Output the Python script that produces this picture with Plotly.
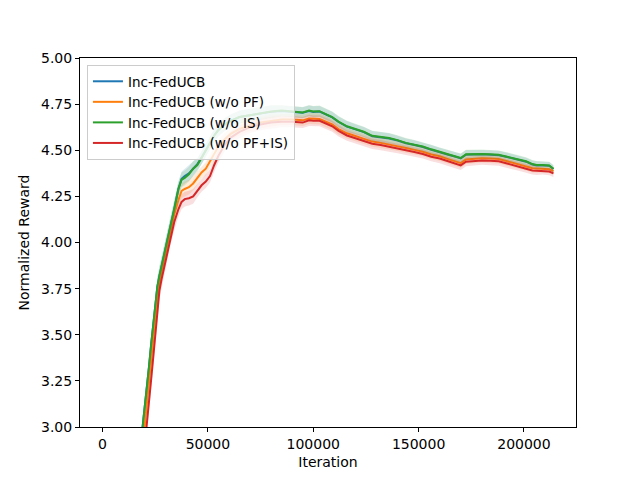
import plotly.graph_objects as go

iters = [19000, 20000, 21000, 22000, 23000, 24000, 25000, 26000, 27000, 28000,
         30000, 32000, 34000, 36000, 37500, 39000, 41000, 43000, 45000, 47000,
         49000, 51000, 53000, 55000, 58000, 61000, 65000, 70000, 75000, 80000,
         85000, 90000, 95000, 98000, 100000, 103000, 106000, 109000, 112000, 116000,
         120000, 124000, 128000, 132000, 136000, 140000, 144000, 148000, 152000, 156000,
         160000, 164000, 168000, 170000, 172500, 176000, 180000, 184000, 188000, 192000,
         195000, 198000, 201000, 204000, 206000, 209000, 212000, 214000]

inc_fed = [3.00, 3.10, 3.20, 3.32, 3.44, 3.55, 3.67, 3.76, 3.82, 3.87,
           3.97, 4.07, 4.18, 4.29, 4.345, 4.36, 4.375, 4.40, 4.425, 4.46,
           4.50, 4.54, 4.58, 4.61, 4.64, 4.66, 4.68, 4.69, 4.70, 4.708,
           4.713, 4.708, 4.703, 4.713, 4.708, 4.71, 4.693, 4.678, 4.653, 4.628,
           4.613, 4.598, 4.576, 4.57, 4.564, 4.553, 4.538, 4.528, 4.518, 4.503,
           4.488, 4.476, 4.463, 4.456, 4.476, 4.478, 4.478, 4.476, 4.473, 4.463,
           4.455, 4.448, 4.438, 4.423, 4.418, 4.418, 4.416, 4.398]

wo_pf = [2.89, 3.00, 3.11, 3.23, 3.35, 3.47, 3.59, 3.70, 3.78, 3.84,
         3.94, 4.05, 4.15, 4.23, 4.28, 4.29, 4.30, 4.32, 4.35, 4.38,
         4.40, 4.44, 4.48, 4.52, 4.56, 4.59, 4.615, 4.635, 4.65, 4.66,
         4.667, 4.667, 4.662, 4.672, 4.67, 4.67, 4.655, 4.64, 4.615, 4.592,
         4.577, 4.562, 4.547, 4.54, 4.532, 4.522, 4.512, 4.502, 4.492, 4.477,
         4.467, 4.452, 4.437, 4.43, 4.45, 4.455, 4.457, 4.455, 4.452, 4.44,
         4.432, 4.422, 4.412, 4.402, 4.40, 4.40, 4.397, 4.387]

wo_is = [3.00, 3.10, 3.20, 3.32, 3.44, 3.55, 3.67, 3.76, 3.82, 3.87,
         3.97, 4.07, 4.18, 4.29, 4.34, 4.35, 4.37, 4.40, 4.42, 4.46,
         4.50, 4.54, 4.58, 4.61, 4.64, 4.66, 4.68, 4.69, 4.70, 4.71,
         4.715, 4.71, 4.705, 4.715, 4.71, 4.712, 4.695, 4.68, 4.655, 4.63,
         4.615, 4.60, 4.578, 4.572, 4.566, 4.555, 4.54, 4.53, 4.52, 4.505,
         4.49, 4.478, 4.465, 4.458, 4.478, 4.48, 4.48, 4.478, 4.475, 4.465,
         4.457, 4.45, 4.44, 4.425, 4.42, 4.42, 4.418, 4.40]

wo_pf_is = [2.78, 2.89, 3.01, 3.13, 3.25, 3.37, 3.50, 3.63, 3.74, 3.80,
            3.91, 4.02, 4.11, 4.18, 4.22, 4.235, 4.24, 4.25, 4.28, 4.31,
            4.33, 4.36, 4.42, 4.47, 4.53, 4.57, 4.60, 4.625, 4.64, 4.65,
            4.655, 4.655, 4.65, 4.662, 4.66, 4.66, 4.645, 4.63, 4.605, 4.58,
            4.565, 4.55, 4.535, 4.528, 4.52, 4.51, 4.50, 4.49, 4.48, 4.465,
            4.455, 4.44, 4.425, 4.418, 4.438, 4.442, 4.445, 4.443, 4.44, 4.428,
            4.42, 4.41, 4.40, 4.39, 4.388, 4.388, 4.385, 4.375]

# spread of the shaded bands (std over runs)
std_is = [0.05, 0.05, 0.05, 0.05, 0.05, 0.05, 0.05, 0.05, 0.05, 0.05,
          0.045, 0.045, 0.045, 0.04, 0.04, 0.04, 0.04, 0.04, 0.035, 0.035,
          0.035, 0.035, 0.035, 0.035, 0.035, 0.035, 0.035, 0.035, 0.035, 0.035,
          0.03, 0.03, 0.03, 0.03, 0.03, 0.03, 0.03, 0.03, 0.03, 0.03,
          0.028, 0.028, 0.028, 0.028, 0.028, 0.026, 0.026, 0.026, 0.025, 0.025,
          0.025, 0.025, 0.025, 0.025, 0.025, 0.025, 0.024, 0.024, 0.024, 0.024,
          0.023, 0.023, 0.022, 0.022, 0.022, 0.02, 0.02, 0.02]

std_pf = [0.05, 0.05, 0.05, 0.05, 0.05, 0.05, 0.05, 0.05, 0.05, 0.05,
          0.045, 0.045, 0.045, 0.04, 0.04, 0.04, 0.04, 0.04, 0.035, 0.035,
          0.035, 0.035, 0.035, 0.035, 0.035, 0.035, 0.035, 0.032, 0.032, 0.032,
          0.03, 0.03, 0.03, 0.03, 0.03, 0.03, 0.03, 0.03, 0.03, 0.028,
          0.028, 0.028, 0.028, 0.028, 0.026, 0.026, 0.026, 0.026, 0.025, 0.025,
          0.025, 0.025, 0.025, 0.025, 0.025, 0.025, 0.024, 0.024, 0.024, 0.024,
          0.023, 0.023, 0.022, 0.022, 0.022, 0.02, 0.02, 0.02]

series = [
    ('Inc-FedUCB', inc_fed, std_is, '#1f77b4', 'rgba(31,119,180,0.15)'),
    ('Inc-FedUCB (w/o PF)', wo_pf, std_pf, '#ff7f0e', 'rgba(255,127,14,0.15)'),
    ('Inc-FedUCB (w/o IS)', wo_is, std_is, '#2ca02c', 'rgba(44,160,44,0.15)'),
    ('Inc-FedUCB (w/o PF+IS)', wo_pf_is, std_pf, '#d62728', 'rgba(214,39,40,0.15)'),
]

fig = go.Figure()

for name, vals, sd, col, fcol in series:
    upper = [v + s for v, s in zip(vals, sd)]
    lower = [v - s for v, s in zip(vals, sd)]
    fig.add_trace(go.Scatter(x=iters, y=upper, mode='lines', line=dict(width=0),
                             showlegend=False, hoverinfo='skip'))
    fig.add_trace(go.Scatter(x=iters, y=lower, mode='lines', line=dict(width=0),
                             fill='tonexty', fillcolor=fcol,
                             showlegend=False, hoverinfo='skip'))
    fig.add_trace(go.Scatter(x=iters, y=vals, mode='lines', name=name,
                             line=dict(color=col, width=2)))

axis_style = dict(showline=True, linecolor='black', linewidth=1, mirror=True,
                  ticks='outside', ticklen=4, tickcolor='black', showgrid=False,
                  zeroline=False, tickfont=dict(size=14, color='black'))

# page body adds an 8px offset, so margins are shifted to compensate
fig.update_layout(
    width=640, height=480,
    margin=dict(l=72, r=72, t=50, b=61),
    paper_bgcolor='white', plot_bgcolor='white',
    font=dict(family='DejaVu Sans', size=14, color='black'),
    xaxis=dict(title=dict(text='Iteration', font=dict(size=14), standoff=6),
               range=[-10700, 224700], tickvals=[0, 50000, 100000, 150000, 200000],
               tickformat='d', **axis_style),
    yaxis=dict(title=dict(text='Normalized Reward', font=dict(size=14), standoff=8),
               range=[3.0, 5.0], dtick=0.25, tickformat='.2f', **axis_style),
    legend=dict(x=0.014, y=0.981, xanchor='left', yanchor='top', traceorder='normal',
                bgcolor='rgba(255,255,255,0.8)', bordercolor='#cccccc', borderwidth=1,
                font=dict(size=13.5), tracegroupgap=0),
    showlegend=True,
)

fig.write_html("out.html")
